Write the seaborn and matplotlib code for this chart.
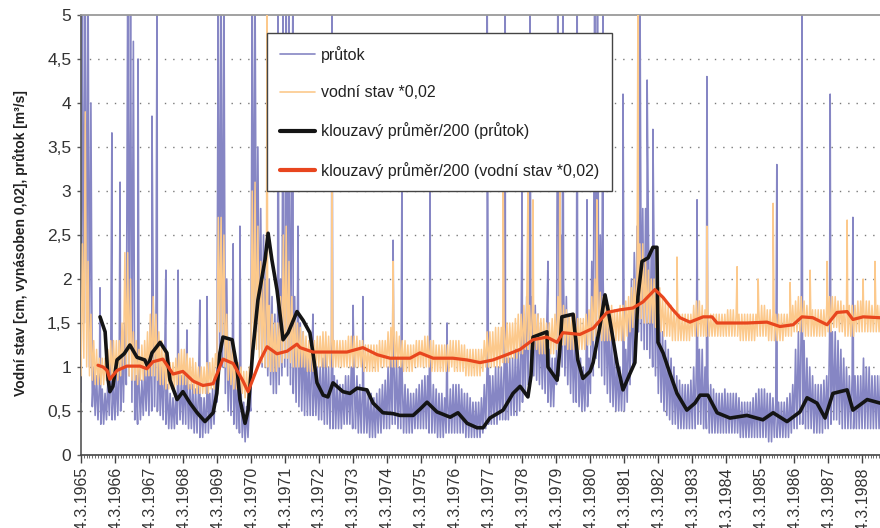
import numpy as np
import pandas as pd
import matplotlib
matplotlib.use("Agg")
import matplotlib.pyplot as plt
from matplotlib.lines import Line2D
from matplotlib.ticker import FixedLocator, MultipleLocator
import seaborn as sns

# ---------------------------------------------------------------- data
tick_years = list(range(1965, 1989))
tick_labels = [f"14.3.{y}" for y in tick_years]
y_ticks = [0, 0.5, 1, 1.5, 2, 2.5, 3, 3.5, 4, 4.5, 5]
y_tick_labels = ["0", "0,5", "1", "1,5", "2", "2,5", "3", "3,5", "4", "4,5", "5"]

# průtok: monthly low / high values, one row per year (1965 ... 1988)
flow_lo = [
    [0.60, 1.50, 1.50, 1.00, 0.55, 0.45, 0.40, 0.35, 0.35, 0.40, 0.45, 0.40],
    [0.40, 0.45, 0.50, 0.60, 0.80, 0.90, 0.60, 0.40, 0.35, 0.40, 0.45, 0.50],
    [0.45, 0.50, 0.55, 0.50, 0.45, 0.40, 0.35, 0.30, 0.30, 0.30, 0.35, 0.40],
    [0.35, 0.35, 0.30, 0.30, 0.25, 0.25, 0.20, 0.20, 0.25, 0.25, 0.30, 0.35],
    [0.60, 1.20, 1.00, 0.70, 0.50, 0.45, 0.35, 0.30, 0.25, 0.20, 0.15, 0.20],
    [0.50, 1.50, 1.40, 1.20, 1.00, 1.00, 0.90, 0.80, 0.70, 0.70, 0.80, 0.90],
    [1.00, 0.90, 0.80, 0.70, 0.60, 0.55, 0.50, 0.45, 0.45, 0.45, 0.45, 0.45],
    [0.40, 0.40, 0.35, 0.35, 0.30, 0.30, 0.30, 0.30, 0.30, 0.35, 0.35, 0.35],
    [0.30, 0.30, 0.25, 0.25, 0.25, 0.25, 0.20, 0.20, 0.20, 0.25, 0.25, 0.30],
    [0.30, 0.30, 0.35, 0.35, 0.30, 0.30, 0.25, 0.25, 0.25, 0.25, 0.30, 0.30],
    [0.30, 0.30, 0.30, 0.25, 0.25, 0.25, 0.20, 0.20, 0.20, 0.25, 0.25, 0.25],
    [0.25, 0.25, 0.25, 0.25, 0.20, 0.20, 0.20, 0.20, 0.20, 0.20, 0.25, 0.30],
    [0.35, 0.35, 0.35, 0.35, 0.40, 0.40, 0.40, 0.40, 0.45, 0.45, 0.45, 0.50],
    [0.60, 0.70, 0.80, 0.90, 0.90, 0.85, 0.80, 0.75, 0.70, 0.60, 0.55, 0.55],
    [0.80, 0.90, 1.00, 0.90, 0.80, 0.70, 0.60, 0.60, 0.55, 0.50, 0.50, 0.55],
    [0.70, 0.90, 1.10, 1.00, 0.90, 0.80, 0.70, 0.60, 0.55, 0.50, 0.50, 0.50],
    [0.50, 0.60, 0.80, 1.00, 1.20, 1.40, 1.30, 1.20, 1.20, 1.10, 1.00, 0.90],
    [0.70, 0.60, 0.50, 0.45, 0.40, 0.35, 0.35, 0.30, 0.30, 0.30, 0.30, 0.30],
    [0.30, 0.30, 0.35, 0.35, 0.30, 0.30, 0.25, 0.25, 0.25, 0.25, 0.25, 0.25],
    [0.25, 0.25, 0.25, 0.25, 0.25, 0.20, 0.20, 0.20, 0.20, 0.20, 0.20, 0.20],
    [0.20, 0.20, 0.20, 0.15, 0.15, 0.20, 0.20, 0.20, 0.20, 0.20, 0.20, 0.25],
    [0.30, 0.30, 0.35, 0.35, 0.30, 0.30, 0.30, 0.25, 0.25, 0.25, 0.25, 0.30],
    [0.30, 0.35, 0.40, 0.40, 0.35, 0.30, 0.30, 0.30, 0.30, 0.30, 0.30, 0.30],
    [0.30, 0.30, 0.30, 0.30, 0.30, 0.30, 0.30],
]
flow_hi = [
    [5.30, 5.30, 5.30, 4.00, 1.00, 0.90, 0.80, 0.75, 0.70, 0.85, 0.90, 0.85],
    [0.95, 1.00, 1.20, 1.50, 5.30, 5.30, 4.70, 0.90, 0.80, 0.85, 1.00, 1.10],
    [1.50, 1.80, 1.60, 1.30, 1.00, 0.90, 0.80, 0.70, 0.65, 0.70, 0.80, 0.90],
    [0.90, 0.85, 0.80, 0.80, 0.75, 0.70, 0.65, 0.65, 0.70, 0.70, 0.75, 0.85],
    [5.30, 5.30, 5.30, 2.00, 1.30, 1.20, 1.00, 0.90, 0.80, 0.60, 0.55, 0.60],
    [5.30, 5.30, 3.50, 2.80, 2.50, 2.20, 2.00, 1.80, 1.60, 1.60, 2.00, 2.50],
    [5.30, 5.30, 3.00, 1.80, 1.60, 1.50, 1.40, 1.20, 1.10, 1.00, 1.00, 1.00],
    [1.00, 1.10, 1.20, 1.00, 1.00, 0.90, 0.85, 0.80, 0.80, 0.90, 0.90, 1.00],
    [0.90, 0.90, 0.80, 0.80, 0.75, 0.70, 0.70, 0.65, 0.70, 0.75, 0.80, 0.85],
    [1.00, 1.10, 1.20, 1.10, 1.00, 0.90, 0.80, 0.75, 0.70, 0.70, 0.75, 0.80],
    [0.85, 0.90, 0.90, 0.85, 0.80, 0.75, 0.70, 0.70, 0.65, 0.70, 0.75, 0.80],
    [0.80, 0.80, 0.75, 0.70, 0.70, 0.65, 0.60, 0.60, 0.60, 0.65, 0.80, 1.00],
    [0.90, 0.90, 1.00, 1.00, 1.00, 1.00, 1.10, 1.10, 1.10, 1.20, 1.20, 1.30],
    [1.60, 1.80, 1.90, 1.80, 1.70, 1.60, 1.50, 1.40, 1.30, 1.20, 1.10, 1.10],
    [5.30, 2.50, 2.00, 1.80, 1.60, 1.50, 1.30, 1.20, 1.10, 1.00, 1.00, 1.10],
    [2.20, 5.30, 5.30, 2.50, 2.00, 1.80, 1.60, 1.40, 1.20, 1.10, 1.00, 1.00],
    [1.20, 1.60, 2.00, 2.30, 2.60, 2.80, 2.80, 2.80, 2.50, 2.30, 2.20, 2.00],
    [1.60, 1.40, 1.30, 1.20, 1.10, 1.00, 0.90, 0.85, 0.80, 0.80, 0.80, 0.85],
    [1.00, 1.10, 1.20, 1.20, 1.00, 0.90, 0.80, 0.75, 0.70, 0.70, 0.70, 0.75],
    [0.70, 0.70, 0.70, 0.70, 0.65, 0.60, 0.60, 0.60, 0.60, 0.65, 0.70, 0.75],
    [0.75, 0.75, 0.70, 0.70, 0.65, 0.60, 0.60, 0.60, 0.60, 0.65, 0.70, 0.80],
    [1.20, 1.40, 1.50, 1.30, 1.10, 1.00, 0.90, 0.80, 0.80, 0.80, 0.85, 0.90],
    [1.30, 1.40, 1.40, 1.30, 1.20, 1.10, 1.00, 0.90, 0.90, 0.90, 0.90, 0.90],
    [1.10, 1.00, 1.00, 0.90, 0.90, 0.90, 0.90],
]
# průtok: short flood peaks
flow_peak_t = [1965.56, 1965.91, 1966.15, 1966.68, 1967.09, 1967.24, 1967.50,
               1967.86, 1968.12, 1968.50, 1968.71, 1969.48, 1969.68, 1970.80,
               1970.95, 1971.24, 1971.39, 1971.83, 1972.39, 1973.01, 1973.30,
               1974.19, 1974.45, 1975.28, 1975.78, 1976.96, 1977.49, 1977.99,
               1978.22, 1978.75, 1979.19, 1979.61, 1979.90, 1980.37, 1980.96,
               1981.46, 1981.67, 1981.84, 1983.14, 1983.43, 1985.49, 1986.23,
               1987.06, 1987.73]
flow_peak_v = [1.90, 3.66, 3.10, 4.50, 3.85, 5.30, 2.10,
               2.10, 1.42, 1.76, 1.80, 2.40, 2.60, 5.30,
               5.30, 5.30, 2.60, 1.60, 5.30, 1.70, 1.80,
               2.44, 3.10, 3.10, 1.50, 5.30, 5.30, 3.00,
               5.30, 2.20, 5.30, 5.30, 2.90, 5.30, 4.10,
               5.30, 4.26, 3.70, 2.90, 4.30, 3.30, 5.30,
               4.10, 2.70]

# vodní stav *0,02: monthly low / high values, one row per year
stage_lo = [
    [0.90, 1.10, 1.00, 0.90, 0.85, 0.80, 0.80, 0.80, 0.80, 0.85, 0.85, 0.85],
    [0.85, 0.85, 0.90, 1.00, 1.00, 0.90, 0.85, 0.85, 0.80, 0.85, 0.85, 0.90],
    [0.90, 0.90, 0.90, 0.85, 0.80, 0.80, 0.75, 0.75, 0.75, 0.75, 0.80, 0.80],
    [0.80, 0.80, 0.75, 0.75, 0.70, 0.70, 0.70, 0.70, 0.70, 0.70, 0.75, 0.75],
    [1.00, 1.40, 1.30, 1.00, 0.85, 0.80, 0.75, 0.75, 0.70, 0.70, 0.65, 0.65],
    [0.80, 1.20, 1.20, 1.10, 1.05, 1.00, 1.00, 0.95, 0.95, 0.95, 1.00, 1.05],
    [1.10, 1.10, 1.05, 1.00, 1.00, 1.00, 1.00, 1.00, 0.95, 0.95, 0.95, 1.00],
    [1.00, 1.00, 1.00, 1.00, 1.00, 1.00, 1.00, 1.00, 1.00, 1.00, 1.00, 1.00],
    [1.00, 1.00, 1.00, 1.00, 0.95, 0.95, 0.95, 0.95, 0.95, 0.95, 1.00, 1.00],
    [1.00, 1.00, 1.00, 1.00, 1.00, 1.00, 0.95, 0.95, 0.95, 0.95, 1.00, 1.00],
    [1.00, 1.00, 1.00, 1.00, 0.95, 0.95, 0.95, 0.95, 0.95, 0.95, 0.95, 1.00],
    [0.95, 0.95, 0.95, 0.95, 0.90, 0.90, 0.90, 0.90, 0.90, 0.90, 0.95, 1.00],
    [1.00, 1.00, 1.00, 1.00, 1.00, 1.05, 1.05, 1.05, 1.10, 1.10, 1.10, 1.15],
    [1.15, 1.20, 1.20, 1.20, 1.20, 1.20, 1.15, 1.15, 1.15, 1.15, 1.15, 1.15],
    [1.20, 1.20, 1.25, 1.25, 1.20, 1.20, 1.20, 1.20, 1.20, 1.20, 1.20, 1.25],
    [1.25, 1.30, 1.35, 1.35, 1.30, 1.30, 1.30, 1.30, 1.30, 1.30, 1.30, 1.30],
    [1.30, 1.35, 1.40, 1.45, 1.50, 1.55, 1.55, 1.50, 1.50, 1.50, 1.50, 1.45],
    [1.40, 1.40, 1.35, 1.35, 1.35, 1.30, 1.30, 1.30, 1.30, 1.30, 1.30, 1.30],
    [1.35, 1.35, 1.35, 1.35, 1.35, 1.35, 1.35, 1.35, 1.35, 1.35, 1.35, 1.35],
    [1.35, 1.35, 1.35, 1.35, 1.35, 1.30, 1.30, 1.30, 1.30, 1.30, 1.30, 1.35],
    [1.35, 1.35, 1.35, 1.30, 1.30, 1.30, 1.30, 1.30, 1.30, 1.35, 1.35, 1.35],
    [1.40, 1.40, 1.40, 1.40, 1.35, 1.35, 1.35, 1.35, 1.35, 1.35, 1.35, 1.35],
    [1.40, 1.40, 1.45, 1.45, 1.40, 1.40, 1.35, 1.35, 1.35, 1.35, 1.40, 1.40],
    [1.40, 1.40, 1.40, 1.40, 1.40, 1.40, 1.40],
]
stage_hi = [
    [2.40, 3.90, 2.20, 1.60, 1.30, 1.20, 1.10, 1.10, 1.10, 1.20, 1.30, 1.30],
    [1.30, 1.30, 1.50, 2.30, 2.30, 2.00, 1.40, 1.30, 1.20, 1.25, 1.30, 1.40],
    [1.60, 1.80, 1.60, 1.40, 1.30, 1.20, 1.10, 1.05, 1.05, 1.10, 1.15, 1.20],
    [1.20, 1.15, 1.10, 1.10, 1.05, 1.00, 1.00, 1.00, 1.05, 1.05, 1.10, 1.15],
    [2.70, 2.70, 2.50, 1.60, 1.30, 1.20, 1.10, 1.05, 1.00, 0.95, 0.95, 1.00],
    [3.00, 3.10, 2.60, 2.20, 2.00, 1.80, 1.70, 1.60, 1.50, 1.50, 1.80, 2.50],
    [2.60, 2.20, 1.80, 1.60, 1.50, 1.45, 1.40, 1.35, 1.30, 1.30, 1.30, 1.35],
    [1.35, 1.40, 1.40, 1.35, 1.35, 1.30, 1.30, 1.30, 1.30, 1.30, 1.35, 1.35],
    [1.35, 1.35, 1.30, 1.30, 1.25, 1.25, 1.25, 1.25, 1.25, 1.30, 1.30, 1.30],
    [1.40, 1.45, 1.50, 1.40, 1.35, 1.30, 1.30, 1.25, 1.25, 1.25, 1.30, 1.30],
    [1.30, 1.35, 1.35, 1.30, 1.30, 1.25, 1.25, 1.25, 1.25, 1.25, 1.30, 1.30],
    [1.30, 1.30, 1.25, 1.25, 1.20, 1.20, 1.20, 1.20, 1.20, 1.20, 1.30, 1.40],
    [1.40, 1.40, 1.45, 1.45, 1.45, 1.50, 1.50, 1.50, 1.50, 1.55, 1.60, 1.60],
    [1.70, 1.70, 1.70, 1.65, 1.60, 1.60, 1.55, 1.55, 1.50, 1.50, 1.55, 1.60],
    [1.80, 1.75, 1.70, 1.65, 1.60, 1.60, 1.60, 1.55, 1.55, 1.55, 1.60, 1.65],
    [1.80, 2.00, 2.00, 1.85, 1.80, 1.75, 1.70, 1.70, 1.65, 1.65, 1.70, 1.70],
    [1.75, 1.80, 1.90, 2.00, 2.10, 2.40, 2.40, 2.20, 2.10, 2.00, 2.00, 1.90],
    [1.90, 1.80, 1.75, 1.70, 1.70, 1.65, 1.65, 1.60, 1.60, 1.60, 1.60, 1.60],
    [1.70, 1.75, 1.75, 1.70, 1.65, 1.65, 1.60, 1.60, 1.60, 1.60, 1.60, 1.60],
    [1.65, 1.65, 1.65, 1.60, 1.60, 1.60, 1.60, 1.60, 1.60, 1.60, 1.60, 1.65],
    [1.70, 1.70, 1.65, 1.65, 1.60, 1.60, 1.60, 1.60, 1.60, 1.60, 1.65, 1.70],
    [1.75, 1.80, 1.80, 1.75, 1.70, 1.70, 1.65, 1.65, 1.65, 1.65, 1.65, 1.70],
    [1.80, 1.80, 1.80, 1.75, 1.75, 1.70, 1.70, 1.70, 1.70, 1.70, 1.75, 1.75],
    [1.75, 1.75, 1.75, 1.70, 1.70, 1.70, 1.70],
]
# vodní stav *0,02: short peaks
stage_peak_t = [1970.48, 1972.39, 1974.19, 1977.43, 1978.16, 1978.31, 1979.10,
                1980.19, 1981.40, 1982.55, 1983.43, 1984.32, 1984.94, 1985.38,
                1985.88, 1986.47, 1986.97, 1987.56, 1988.03, 1988.38]
stage_peak_v = [5.30, 3.00, 2.20, 3.30, 3.00, 2.90, 3.50,
                2.90, 5.30, 2.25, 2.60, 2.14, 2.00, 2.86,
                1.96, 2.10, 2.20, 2.67, 2.00, 2.20]

# klouzavý průměr/200 (průtok)
ma_flow_t = [1965.56, 1965.71, 1965.80, 1965.85, 1965.94, 1966.06, 1966.27, 1966.44,
             1966.65, 1966.88, 1966.97, 1967.09, 1967.33, 1967.53, 1967.62, 1967.83,
             1968.00, 1968.21, 1968.42, 1968.65, 1968.89, 1969.00, 1969.09, 1969.18,
             1969.45, 1969.59, 1969.68, 1969.83, 1969.92, 1970.06, 1970.21, 1970.42,
             1970.51, 1970.62, 1970.77, 1970.86, 1970.95, 1971.10, 1971.36, 1971.54,
             1971.74, 1971.83, 1971.95, 1972.13, 1972.27, 1972.42, 1972.71, 1972.92,
             1973.13, 1973.42, 1973.60, 1973.89, 1974.19, 1974.39, 1974.78, 1974.98,
             1975.19, 1975.48, 1975.87, 1976.10, 1976.37, 1976.66, 1976.84, 1977.04,
             1977.43, 1977.72, 1977.93, 1978.16, 1978.25, 1978.31, 1978.72, 1978.75,
             1979.02, 1979.10, 1979.16, 1979.49, 1979.63, 1979.78, 1979.99, 1980.08,
             1980.28, 1980.43, 1980.52, 1980.67, 1980.78, 1980.96, 1981.17, 1981.31,
             1981.40, 1981.52, 1981.70, 1981.84, 1981.96, 1981.99, 1982.14, 1982.34,
             1982.55, 1982.84, 1983.08, 1983.23, 1983.46, 1983.73, 1984.11, 1984.61,
             1985.08, 1985.38, 1985.79, 1986.17, 1986.38, 1986.67, 1986.91, 1987.14,
             1987.56, 1987.73, 1988.15, 1988.53]
ma_flow_v = [1.57, 1.40, 0.85, 0.72, 0.78, 1.08, 1.15, 1.25,
             1.11, 1.08, 1.00, 1.16, 1.28, 1.16, 0.85, 0.63,
             0.72, 0.59, 0.48, 0.38, 0.48, 0.70, 1.16, 1.34,
             1.31, 1.00, 0.63, 0.36, 0.51, 1.19, 1.76, 2.22,
             2.52, 2.22, 1.88, 1.60, 1.31, 1.39, 1.63, 1.53,
             1.39, 1.16, 0.82, 0.68, 0.66, 0.82, 0.72, 0.70,
             0.76, 0.74, 0.59, 0.48, 0.47, 0.45, 0.45, 0.52,
             0.60, 0.49, 0.43, 0.48, 0.36, 0.31, 0.31, 0.42,
             0.51, 0.70, 0.78, 0.66, 0.90, 1.34, 1.40, 1.00,
             0.85, 1.20, 1.57, 1.60, 1.08, 0.87, 0.95, 1.05,
             1.46, 1.82, 1.65, 1.31, 1.05, 0.74, 0.93, 1.05,
             1.80, 2.20, 2.24, 2.36, 2.36, 1.28, 1.16, 0.93,
             0.70, 0.51, 0.59, 0.68, 0.68, 0.48, 0.42, 0.45,
             0.40, 0.48, 0.38, 0.49, 0.65, 0.59, 0.42, 0.70,
             0.74, 0.51, 0.63, 0.59]

# klouzavý průměr/200 (vodní stav *0,02)
ma_stage_t = [1965.50, 1965.65, 1965.77, 1965.85, 1966.06, 1966.35, 1966.74, 1966.94,
              1967.12, 1967.41, 1967.71, 1968.00, 1968.30, 1968.59, 1968.89, 1969.18,
              1969.48, 1969.77, 1969.92, 1970.06, 1970.27, 1970.48, 1970.77, 1971.07,
              1971.36, 1971.45, 1971.83, 1972.33, 1972.83, 1973.30, 1973.72, 1974.10,
              1974.69, 1974.98, 1975.37, 1975.95, 1976.37, 1976.75, 1977.13, 1977.54,
              1977.93, 1978.31, 1978.72, 1979.02, 1979.19, 1979.69, 1980.08, 1980.49,
              1980.87, 1981.25, 1981.55, 1981.90, 1982.14, 1982.43, 1982.64, 1982.93,
              1983.32, 1983.58, 1983.73, 1984.61, 1985.20, 1985.58, 1985.97, 1986.23,
              1986.55, 1986.97, 1987.26, 1987.56, 1987.73, 1988.03, 1988.53]
ma_stage_v = [1.02, 1.00, 0.96, 0.86, 0.96, 1.01, 1.01, 0.98,
              1.06, 1.09, 0.92, 0.95, 0.84, 0.79, 0.81, 1.09,
              1.04, 0.84, 0.72, 0.86, 1.07, 1.23, 1.15, 1.18,
              1.26, 1.22, 1.17, 1.17, 1.17, 1.22, 1.14, 1.10,
              1.10, 1.16, 1.10, 1.10, 1.08, 1.05, 1.08, 1.14,
              1.20, 1.31, 1.34, 1.28, 1.39, 1.37, 1.44, 1.62,
              1.65, 1.67, 1.74, 1.88, 1.79, 1.65, 1.56, 1.51,
              1.57, 1.57, 1.50, 1.50, 1.51, 1.46, 1.48, 1.57,
              1.56, 1.48, 1.62, 1.63, 1.54, 1.57, 1.56]

legend_labels = ["průtok", "vodní stav *0,02", "klouzavý průměr/200 (průtok)",
                 "klouzavý průměr/200 (vodní stav *0,02)"]
y_label = "Vodní stav [cm, vynásoben 0,02], průtok [m³/s]"

# ---------------------------------------------------------------- helpers
def daily_like(lo_rows, hi_rows, peak_t, peak_v, first_year=1965):
    """Alternate monthly lows/highs and merge in the short peaks."""
    t, v = [], []
    for i, (lo, hi) in enumerate(zip(lo_rows, hi_rows)):
        year = first_year + i
        for m, (a, b) in enumerate(zip(lo, hi)):
            t += [year + m / 12, year + (m + 0.5) / 12]
            v += [a, b]
    t += list(peak_t)
    v += list(peak_v)
    df = pd.DataFrame({"t": t, "v": v}).sort_values("t").reset_index(drop=True)
    return df

flow_df = daily_like(flow_lo, flow_hi, flow_peak_t, flow_peak_v)
stage_df = daily_like(stage_lo, stage_hi, stage_peak_t, stage_peak_v)
ma_flow_df = pd.DataFrame({"t": ma_flow_t, "v": ma_flow_v})
ma_stage_df = pd.DataFrame({"t": ma_stage_t, "v": ma_stage_v})

# ---------------------------------------------------------------- style
sns.set_theme(style="white")
plt.rcParams["font.family"] = ["Liberation Sans", "DejaVu Sans"]

c_flow = "#8686c4"
c_stage = "#fcc98c"
c_ma_flow = "#141414"
c_ma_stage = "#e8461e"

fig = plt.figure(figsize=(8.8, 5.28), dpi=100)
fig.patch.set_facecolor("white")
ax = fig.add_axes([81 / 880, 73 / 528, 799 / 880, 440 / 528])

sns.lineplot(data=flow_df, x="t", y="v", ax=ax, color=c_flow, lw=1.2,
             estimator=None, sort=False, zorder=2)
sns.lineplot(data=stage_df, x="t", y="v", ax=ax, color=c_stage, lw=1.1,
             estimator=None, sort=False, zorder=3)
sns.lineplot(data=ma_flow_df, x="t", y="v", ax=ax, color=c_ma_flow, lw=2.6,
             estimator=None, sort=False, zorder=4)
sns.lineplot(data=ma_stage_df, x="t", y="v", ax=ax, color=c_ma_stage, lw=2.3,
             estimator=None, sort=False, zorder=5)

ax.set_xlim(1965, 1965 + 799 / 33.96)
ax.set_ylim(0, 5)
ax.set_xlabel("")
ax.set_ylabel("")

# axes, ticks and grid
ax.set_yticks(y_ticks)
ax.set_yticklabels(y_tick_labels, fontsize=12.5, color="#333333")
ax.xaxis.set_major_locator(FixedLocator(tick_years))
ax.set_xticklabels(tick_labels, rotation=90, fontsize=11.5, color="#333333")
ax.xaxis.set_minor_locator(MultipleLocator(1 / 12))
ax.tick_params(axis="x", which="major", direction="out", length=6, width=1,
               color="#444444", pad=2, bottom=True)
ax.tick_params(axis="x", which="minor", direction="out", length=2.5, width=0.6,
               color="#555555", bottom=True)
ax.tick_params(axis="y", which="major", direction="out", length=3, width=1,
               color="#555555", pad=4, left=True)

ax.grid(False)
ax.set_axisbelow(True)
for yv in y_ticks[1:-1]:
    ax.axhline(yv, color="#7a7a7a", lw=1.0, ls=(0, (1, 5)), zorder=1)

ax.spines["right"].set_visible(False)
ax.spines["top"].set_color("#9a9a9a")
ax.spines["top"].set_linewidth(1.3)
ax.spines["left"].set_color("#555555")
ax.spines["left"].set_linewidth(1.2)
ax.spines["bottom"].set_color("#444444")
ax.spines["bottom"].set_linewidth(1.2)

fig.text(20 / 880, 1 - 243 / 528, y_label, rotation=90, ha="center",
         va="center", fontsize=10, fontweight="bold", color="#222222")

# legend
handles = [
    Line2D([], [], color=c_flow, lw=1.2),
    Line2D([], [], color=c_stage, lw=1.2),
    Line2D([], [], color=c_ma_flow, lw=3.0),
    Line2D([], [], color=c_ma_stage, lw=3.0),
]
leg = ax.legend(handles, legend_labels, loc="upper left",
                bbox_to_anchor=(267 / 880, 1 - 33 / 528),
                bbox_transform=fig.transFigure, frameon=True, fancybox=False,
                framealpha=1, edgecolor="#444444", fontsize=11.5,
                handlelength=2.2, handletextpad=0.35, labelspacing=1.4,
                borderpad=0.8, borderaxespad=0)
leg.get_frame().set_linewidth(1.0)
for txt in leg.get_texts():
    txt.set_color("#222222")
leg.set_zorder(10)

fig.savefig("out.png", dpi=100)
